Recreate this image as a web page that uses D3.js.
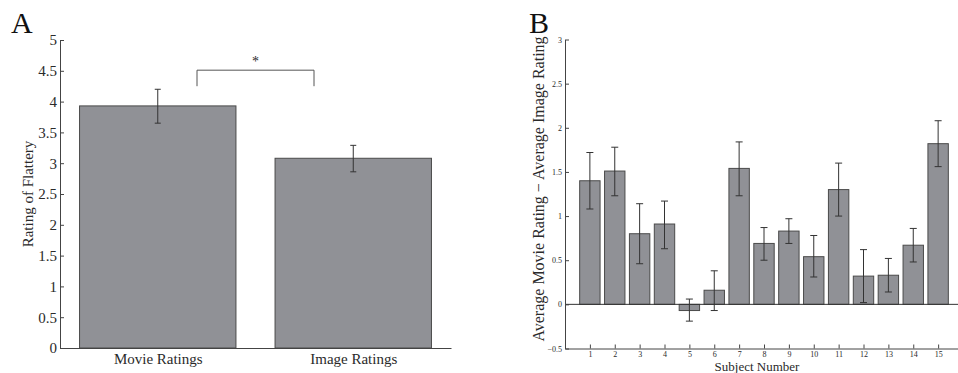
<!DOCTYPE html>
<html>
<head>
<meta charset="utf-8">
<script src="https://cdn.jsdelivr.net/npm/d3@7"></script>
<style>
  body { margin: 0; background: #fff; }
  svg { display: block; font-family: "Liberation Serif", "DejaVu Serif", serif; }
</style>
</head>
<body>
<svg id="chart" width="958" height="373"></svg>
<script>
// panel A data
const conditions = ["Movie Ratings", "Image Ratings"];
const flattery = [3.93, 3.08];
const flatteryHi = [4.20, 3.29];
const flatteryLo = [3.65, 2.86];
const ticksA = [0, 0.5, 1, 1.5, 2, 2.5, 3, 3.5, 4, 4.5, 5];

// panel B data
const subjects = [1, 2, 3, 4, 5, 6, 7, 8, 9, 10, 11, 12, 13, 14, 15];
const diff = [1.40, 1.51, 0.80, 0.91, -0.07, 0.16, 1.54, 0.69, 0.83, 0.54, 1.30, 0.32, 0.33, 0.67, 1.82];
const diffHi = [1.72, 1.78, 1.14, 1.17, 0.06, 0.38, 1.84, 0.87, 0.97, 0.78, 1.60, 0.62, 0.52, 0.86, 2.08];
const diffLo = [1.08, 1.23, 0.46, 0.63, -0.19, -0.07, 1.23, 0.50, 0.69, 0.31, 1.00, 0.02, 0.14, 0.48, 1.56];
const ticksB = [-0.5, 0, 0.5, 1, 1.5, 2, 2.5, 3];

const barFill = "#909196";
const barEdge = "#4a4a4a";
const axisCol = "#444";
const textCol = "#2a2a2a";

const svg = d3.select("#chart");

// d3 axes put font-family="sans-serif" on their group, drop it so the serif face is used
function styleAxis(g, size) {
  g.attr("font-family", null).attr("font-size", size);
  g.select(".domain").attr("stroke", axisCol);
  g.selectAll(".tick line").attr("stroke", axisCol);
  g.selectAll(".tick text").attr("fill", textCol);
}

// ---------- panel A ----------
const xA = d3.scaleLinear().domain([0.5, 2.5]).range([60, 451]);
const yA = d3.scaleLinear().domain([0, 5]).range([348, 40]);
const bwA = (xA(1.8) - xA(1));

const gA = svg.append("g");

gA.selectAll("rect.bar")
  .data(flattery)
  .join("rect")
  .attr("class", "bar")
  .attr("x", (d, i) => xA(i + 1) - bwA / 2)
  .attr("width", bwA)
  .attr("y", d => yA(d))
  .attr("height", d => yA(0) - yA(d))
  .attr("fill", barFill)
  .attr("stroke", barEdge)
  .attr("stroke-width", 1);

const errA = gA.selectAll("g.err").data(flattery).join("g").attr("class", "err")
  .attr("stroke", "#333").attr("stroke-width", 1);
errA.append("line")
  .attr("x1", (d, i) => xA(i + 1)).attr("x2", (d, i) => xA(i + 1))
  .attr("y1", (d, i) => yA(flatteryHi[i])).attr("y2", (d, i) => yA(flatteryLo[i]));
errA.append("line")
  .attr("x1", (d, i) => xA(i + 1) - 3).attr("x2", (d, i) => xA(i + 1) + 3)
  .attr("y1", (d, i) => yA(flatteryHi[i])).attr("y2", (d, i) => yA(flatteryHi[i]));
errA.append("line")
  .attr("x1", (d, i) => xA(i + 1) - 3).attr("x2", (d, i) => xA(i + 1) + 3)
  .attr("y1", (d, i) => yA(flatteryLo[i])).attr("y2", (d, i) => yA(flatteryLo[i]));

gA.append("g")
  .attr("transform", "translate(0," + yA(0) + ")")
  .call(d3.axisBottom(xA).tickValues([1, 2]).tickSize(0).tickPadding(5)
    .tickFormat((d) => conditions[d - 1]))
  .call(styleAxis, 15);

gA.append("g")
  .attr("transform", "translate(" + xA(0.5) + ",0)")
  .call(d3.axisLeft(yA).tickValues(ticksA).tickSize(-4).tickPadding(3).tickSizeOuter(0)
    .tickFormat(d3.format("")))
  .call(styleAxis, 15);

gA.append("text")
  .attr("transform", "translate(28," + yA(2.5) + ") rotate(-90)")
  .attr("text-anchor", "middle")
  .attr("dy", "0.35em")
  .attr("fill", textCol)
  .style("font-size", "15px")
  .text("Rating of Flattery");

// significance bracket
const bx1 = 197, bx2 = 314;
gA.append("path")
  .attr("d", d3.line()([[bx1, yA(4.25)], [bx1, yA(4.51)], [bx2, yA(4.51)], [bx2, yA(4.25)]]))
  .attr("fill", "none")
  .attr("stroke", "#555");
gA.append("text")
  .attr("x", (bx1 + bx2) / 2)
  .attr("y", yA(4.51) - 4)
  .attr("text-anchor", "middle")
  .attr("fill", textCol)
  .style("font-size", "14px")
  .text("*");

gA.append("text")
  .attr("x", 11).attr("y", 33)
  .attr("fill", "#111")
  .style("font-size", "30px")
  .text("A");

// ---------- panel B ----------
const xB = d3.scaleLinear().domain([0, 16]).range([565, 963]);
const yB = d3.scaleLinear().domain([-0.5, 3]).range([348.5, 39.5]);
const bwB = xB(0.82) - xB(0);

const gB = svg.append("g");

gB.selectAll("rect.bar")
  .data(diff)
  .join("rect")
  .attr("class", "bar")
  .attr("x", (d, i) => xB(subjects[i]) - bwB / 2)
  .attr("width", bwB)
  .attr("y", d => yB(Math.max(0, d)))
  .attr("height", d => Math.abs(yB(d) - yB(0)))
  .attr("fill", barFill)
  .attr("stroke", barEdge)
  .attr("stroke-width", 1);

gB.append("line")
  .attr("x1", xB(0)).attr("x2", xB(16))
  .attr("y1", yB(0)).attr("y2", yB(0))
  .attr("stroke", "#333");

const errB = gB.selectAll("g.err").data(diff).join("g").attr("class", "err")
  .attr("stroke", "#333").attr("stroke-width", 1);
errB.append("line")
  .attr("x1", (d, i) => xB(subjects[i])).attr("x2", (d, i) => xB(subjects[i]))
  .attr("y1", (d, i) => yB(diffHi[i])).attr("y2", (d, i) => yB(diffLo[i]));
errB.append("line")
  .attr("x1", (d, i) => xB(subjects[i]) - 3.5).attr("x2", (d, i) => xB(subjects[i]) + 3.5)
  .attr("y1", (d, i) => yB(diffHi[i])).attr("y2", (d, i) => yB(diffHi[i]));
errB.append("line")
  .attr("x1", (d, i) => xB(subjects[i]) - 3.5).attr("x2", (d, i) => xB(subjects[i]) + 3.5)
  .attr("y1", (d, i) => yB(diffLo[i])).attr("y2", (d, i) => yB(diffLo[i]));

gB.append("g")
  .attr("transform", "translate(0," + yB(-0.5) + ")")
  .call(d3.axisBottom(xB).tickValues(subjects).tickSize(-4).tickPadding(3).tickSizeOuter(0))
  .call(styleAxis, 8);

gB.append("g")
  .attr("transform", "translate(" + xB(0) + ",0)")
  .call(d3.axisLeft(yB).tickValues(ticksB).tickSize(-4).tickPadding(3).tickSizeOuter(0)
    .tickFormat(d => d < 0 ? "\u2212" + Math.abs(d) : String(d)))
  .call(styleAxis, 8);

gB.append("text")
  .attr("x", 757).attr("y", 371)
  .attr("text-anchor", "middle")
  .attr("fill", textCol)
  .style("font-size", "13px")
  .text("Subject Number");

gB.append("text")
  .attr("transform", "translate(538," + 189 + ") rotate(-90)")
  .attr("text-anchor", "middle")
  .attr("dy", "0.35em")
  .attr("fill", textCol)
  .style("font-size", "16px")
  .text("Average Movie Rating \u2212 Average Image Rating");

gB.append("text")
  .attr("x", 529).attr("y", 33)
  .attr("fill", "#111")
  .style("font-size", "30px")
  .text("B");
</script>
</body>
</html>
